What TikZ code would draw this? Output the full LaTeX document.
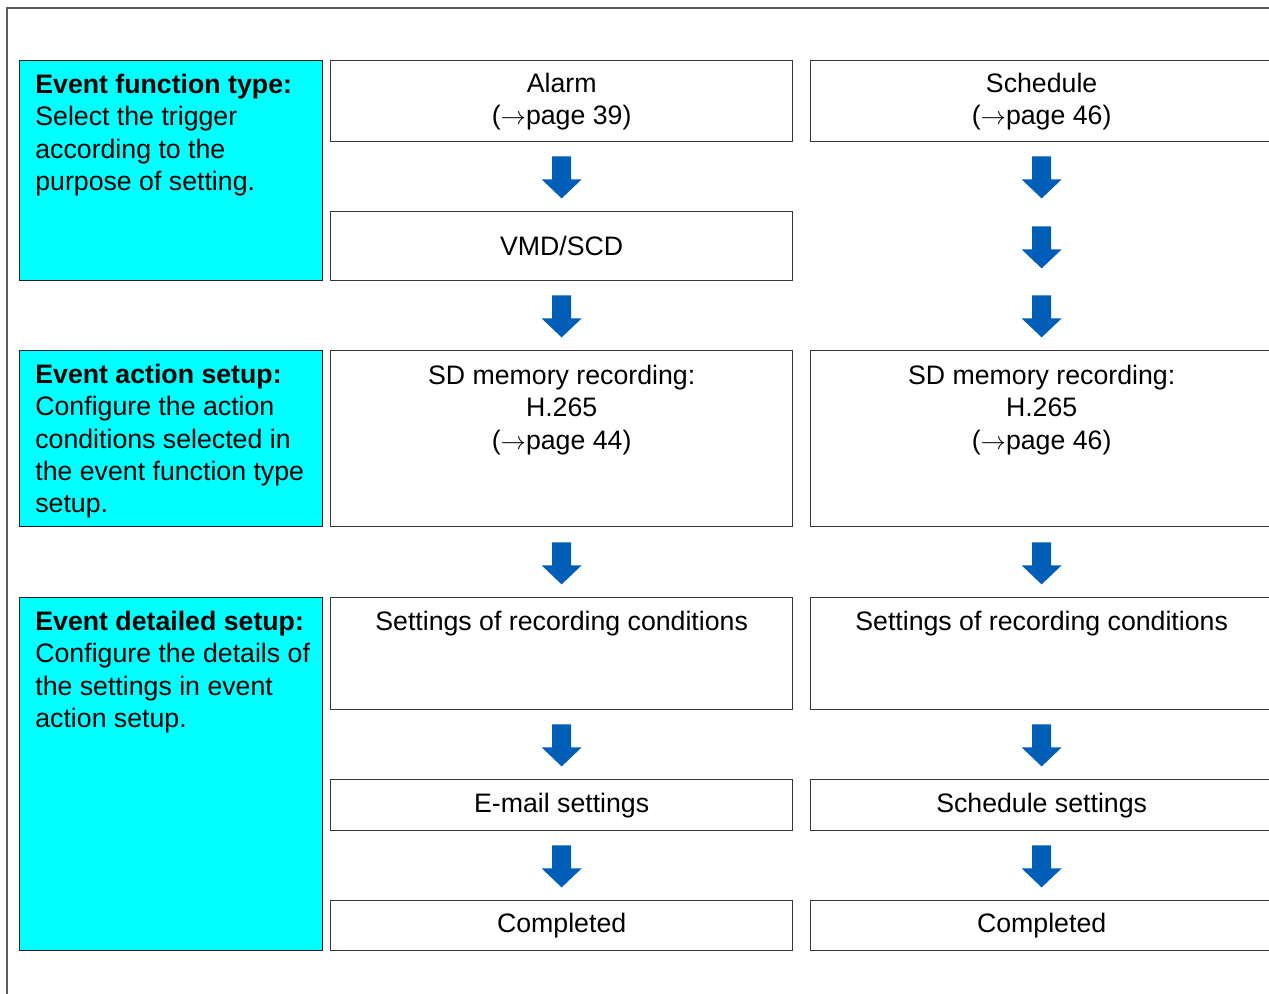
\documentclass[tikz,border=0pt]{standalone}
\usepackage{fontspec}
\setmainfont{Liberation Sans}
\usetikzlibrary{positioning, calc}

\definecolor{evcyan}{RGB}{0,255,255}
\definecolor{flowblue}{RGB}{0,94,184}
\definecolor{framegray}{RGB}{90,90,90}

% block arrow, hanging below a node anchor
\newcommand{\flowarrow}[2]{%
	\fill[flowblue] ($(#1)+(-9.5,#2)$) -- ++(19,0) -- ++(0,23) -- ++(10.5,0)
	-- ++(-20,19) -- ++(-20,-19) -- ++(10.5,0) -- cycle;}

\begin{document}
\begin{tikzpicture}[x=0.02cm, y=-0.02cm, font=\fontsize{15.2}{18.3}\selectfont,
	box/.style={draw=black!78, line width=0.8pt, minimum width=9.24cm, anchor=north west, align=center, inner sep=0pt},
	sidebox/.style={draw=black!88, line width=0.8pt, fill=evcyan, minimum width=6.06cm, anchor=north west, inner sep=0pt},
	sidetext/.style={align=left, inner sep=0pt},
	boxtext/.style={align=center, inner sep=0pt}]
	
	\useasboundingbox (0,0) rectangle (1269,994);
	\clip (0,0) rectangle (1269,994);
	\draw[framegray, line width=0.6pt] (7,994) -- (7,8) -- (1269,8);
	
	% left column
	\node[sidebox, minimum height=4.40cm] (type_box) at (19,60) {};
	\node[sidetext, below right=0.28cm and 0.32cm of type_box.north west] (type_txt)
	{\textbf{Event function type:}\\Select the trigger\\according to the\\purpose of setting.};
	
	\node[sidebox, minimum height=3.52cm] (action_box) at (19,350) {};
	\node[sidetext, below right=0.28cm and 0.32cm of action_box.north west] (action_txt)
	{\textbf{Event action setup:}\\Configure the action\\conditions selected in\\the event function type\\setup.};
	
	\node[sidebox, minimum height=7.06cm] (detail_box) at (19,597) {};
	\node[sidetext, below right=0.28cm and 0.32cm of detail_box.north west] (detail_txt)
	{\textbf{Event detailed setup:}\\Configure the details of\\the settings in event\\action setup.};
	
	% alarm column
	\node[box, minimum height=1.62cm] (alarm) at (330,60) {Alarm\\($\rightarrow$page 39)};
	\node[box, minimum height=1.38cm] (vmd) at (330,211) {VMD/SCD};
	\node[box, minimum height=3.52cm] (sd_a) at (330,350) {};
	\node[boxtext, below=0.30cm of sd_a.north] (sd_a_txt) {SD memory recording:\\H.265\\($\rightarrow$page 44)};
	\node[box, minimum height=2.24cm] (rec_a) at (330,597) {};
	\node[boxtext, below=0.28cm of rec_a.north] (rec_a_txt) {Settings of recording conditions};
	\node[box, minimum height=1.02cm] (mail) at (330,779) {E-mail settings};
	\node[box, minimum height=1.00cm] (done_a) at (330,900) {Completed};
	
	% schedule column
	\node[box, minimum height=1.62cm] (sched) at (810,60) {Schedule\\($\rightarrow$page 46)};
	\node[box, minimum height=3.52cm] (sd_b) at (810,350) {};
	\node[boxtext, below=0.30cm of sd_b.north] (sd_b_txt) {SD memory recording:\\H.265\\($\rightarrow$page 46)};
	\node[box, minimum height=2.24cm] (rec_b) at (810,597) {};
	\node[boxtext, below=0.28cm of rec_b.north] (rec_b_txt) {Settings of recording conditions};
	\node[box, minimum height=1.02cm] (schedset) at (810,779) {Schedule settings};
	\node[box, minimum height=1.00cm] (done_b) at (810,900) {Completed};
	
	\flowarrow{alarm.south}{14}
	\flowarrow{vmd.south}{14}
	\flowarrow{sd_a.south}{15}
	\flowarrow{rec_a.south}{14}
	\flowarrow{mail.south}{14}
	
	\flowarrow{sched.south}{14}
	\flowarrow{sched.south}{84}
	\flowarrow{sched.south}{153}
	\flowarrow{sd_b.south}{15}
	\flowarrow{rec_b.south}{14}
	\flowarrow{schedset.south}{14}
\end{tikzpicture}
\end{document}
